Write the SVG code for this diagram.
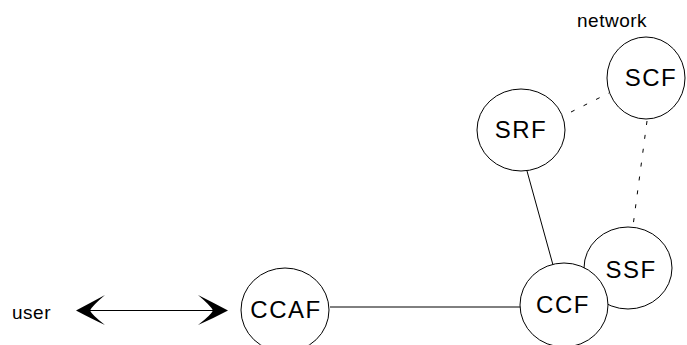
<svg xmlns="http://www.w3.org/2000/svg" width="687" height="345" viewBox="0 0 687 345">
  <style>
    .node ellipse { fill: #fff; stroke: #000; stroke-width: 1; }
    .label { font-family: "Liberation Sans", Arial, sans-serif; font-size: 24px; letter-spacing: 1.5px; text-anchor: middle; fill: #000; }
    .note { font-family: "Liberation Sans", Arial, sans-serif; font-size: 19px; letter-spacing: 0.5px; fill: #000; }
    .solid { stroke: #000; stroke-width: 1; fill: none; }
    .dashed { stroke: #000; stroke-width: 1; fill: none; stroke-dasharray: 4 10; }
    .head { fill: #000; }
  </style>
  <rect width="687" height="345" fill="#fff"/>

  <text class="note" x="577" y="27">network</text>
  <text class="note" x="12" y="319">user</text>

  <g id="connectors">
    <line class="solid" x1="330" y1="307" x2="521" y2="307"/>
    <line class="solid" x1="527" y1="171" x2="553" y2="265"/>
    <line class="dashed" x1="571" y1="112" x2="609" y2="93"/>
    <line class="dashed" x1="647" y1="121" x2="633" y2="226"/>
    <g id="user-link">
      <line class="solid" x1="85" y1="310.5" x2="220" y2="310.5"/>
      <path class="head" d="M76,310.5 Q92,302 105,295 Q92,306 90,310.5 Q92,315 105,325 Q92,319 76,310.5 Z"/>
      <path class="head" d="M228,310.5 Q212,302 198,295 Q211,306 213,310.5 Q211,315 198,325 Q212,319 228,310.5 Z"/>
    </g>
  </g>

  <g id="SCF" class="node">
    <ellipse cx="646" cy="78" rx="39" ry="41"/>
    <text class="label" x="651" y="86">SCF</text>
  </g>
  <g id="SRF" class="node">
    <ellipse cx="521" cy="130" rx="44" ry="41"/>
    <text class="label" x="521" y="138">SRF</text>
  </g>
  <g id="SSF" class="node">
    <ellipse cx="628" cy="268" rx="44" ry="41"/>
    <text class="label" x="631" y="278">SSF</text>
  </g>
  <g id="CCF" class="node">
    <ellipse cx="564" cy="305" rx="44" ry="42"/>
    <text class="label" x="563" y="313">CCF</text>
  </g>
  <g id="CCAF" class="node">
    <ellipse cx="285" cy="310" rx="44" ry="42"/>
    <text class="label" x="286" y="318">CCAF</text>
  </g>
</svg>
